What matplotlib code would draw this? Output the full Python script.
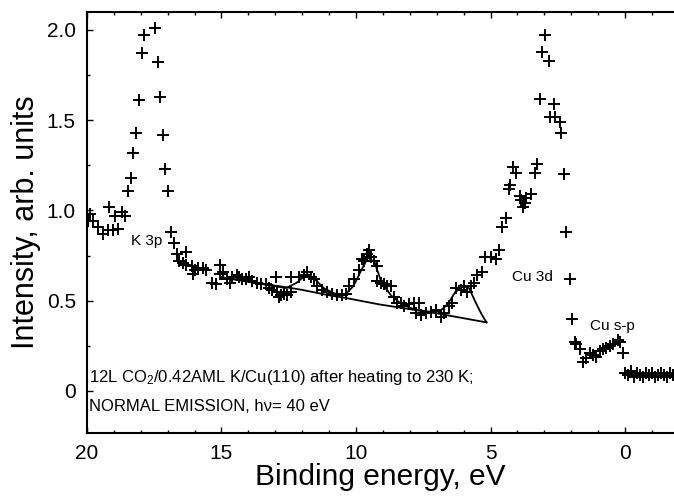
import matplotlib
matplotlib.use("Agg")
import matplotlib.pyplot as plt
from matplotlib.ticker import MultipleLocator

plt.rcParams['font.family'] = ['Liberation Sans', 'DejaVu Sans']
plt.rcParams['mathtext.fontset'] = 'custom'
plt.rcParams['mathtext.rm'] = 'Liberation Sans'
plt.rcParams['mathtext.it'] = 'Liberation Sans:italic'

# measured spectrum (binding energy in eV, intensity in arb. units)
energy = [19.96, 19.89, 19.78, 19.59, 19.41, 19.22, 19.19, 19.04, 18.96, 18.85, 18.70, 18.59,
          18.48, 18.37, 18.30, 18.19, 18.07, 17.96, 17.89, 17.48, 17.37, 17.30, 17.19, 17.11,
          17.00, 16.89, 16.78, 16.67, 16.56, 16.44, 16.30, 16.30, 16.11, 16.07, 16.00, 15.89,
          15.70, 15.56, 15.37, 15.19, 15.07, 15.07, 14.96, 14.81, 14.70, 14.59, 14.44, 14.33,
          14.22, 14.07, 13.96, 13.85, 13.67, 13.52, 13.33, 13.22, 13.11, 12.96, 12.93, 12.85,
          12.78, 12.67, 12.56, 12.41, 12.41, 12.11, 11.93, 11.81, 11.67, 11.56, 11.44, 11.26,
          11.07, 10.89, 10.70, 10.52, 10.37, 10.26, 10.07, 9.89, 9.78, 9.70, 9.59, 9.52,
          9.44, 9.33, 9.22, 9.22, 9.07, 8.96, 8.85, 8.70, 8.59, 8.48, 8.33, 8.22,
          8.04, 7.85, 7.78, 7.67, 7.59, 7.41, 7.22, 7.04, 6.85, 6.74, 6.56, 6.44,
          6.30, 6.11, 6.00, 5.89, 5.74, 5.63, 5.52, 5.33, 5.19, 5.00, 4.81, 4.70,
          4.59, 4.44, 4.33, 4.26, 4.15, 4.04, 3.89, 3.85, 3.78, 3.70, 3.67, 3.48,
          3.33, 3.26, 3.15, 3.07, 2.96, 2.81, 2.78, 2.63, 2.59, 2.41, 2.37, 2.26,
          2.19, 2.04, 1.96, 1.85, 1.81, 1.67, 1.56, 1.44, 1.30, 1.19, 1.07, 0.93,
          0.81, 0.70, 0.56, 0.44, 0.26, 0.19, 0.07,
          0.00, -0.11, -0.22, -0.33, -0.44, -0.56, -0.67, -0.78, -0.89, -1.00, -1.11,
          -1.22, -1.33, -1.44, -1.56, -1.67, -1.78]
intensity = [0.94, 0.98, 0.94, 0.91, 0.87, 0.89, 1.02, 0.89, 0.97, 0.90, 0.99, 0.97,
             1.11, 1.18, 1.32, 1.43, 1.61, 1.87, 1.97, 2.01, 1.82, 1.63, 1.42, 1.23,
             1.11, 0.88, 0.82, 0.76, 0.72, 0.71, 0.77, 0.70, 0.69, 0.65, 0.67, 0.68,
             0.68, 0.67, 0.60, 0.59, 0.70, 0.65, 0.66, 0.62, 0.60, 0.63, 0.64, 0.63,
             0.62, 0.62, 0.63, 0.61, 0.60, 0.59, 0.59, 0.57, 0.56, 0.63, 0.55, 0.52,
             0.53, 0.54, 0.53, 0.55, 0.63, 0.63, 0.64, 0.66, 0.63, 0.62, 0.58, 0.56,
             0.55, 0.54, 0.53, 0.53, 0.54, 0.58, 0.62, 0.67, 0.73, 0.72, 0.76, 0.78,
             0.74, 0.72, 0.69, 0.61, 0.60, 0.59, 0.58, 0.58, 0.52, 0.49, 0.49, 0.47,
             0.48, 0.49, 0.43, 0.49, 0.42, 0.43, 0.44, 0.45, 0.41, 0.43, 0.47, 0.49,
             0.57, 0.56, 0.58, 0.55, 0.58, 0.60, 0.64, 0.66, 0.74, 0.74, 0.73, 0.78,
             0.91, 0.96, 1.12, 1.14, 1.24, 1.21, 1.08, 1.06, 1.02, 1.04, 1.07, 1.09,
             1.21, 1.26, 1.62, 1.88, 1.97, 1.83, 1.52, 1.59, 1.52, 1.49, 1.43, 1.20,
             0.88, 0.62, 0.40, 0.27, 0.26, 0.23, 0.16, 0.18, 0.21, 0.20, 0.19, 0.22,
             0.23, 0.24, 0.25, 0.26, 0.28, 0.27, 0.21,
             0.10, 0.09, 0.11, 0.08, 0.10, 0.09, 0.08, 0.10, 0.09, 0.10, 0.08,
             0.09, 0.10, 0.09, 0.08, 0.10, 0.09]

# fitted background and peak envelope
bg_energy = [15.0, 13.5, 12.4, 12.0, 11.0, 10.37, 9.15, 7.0, 5.15]
bg_intensity = [0.63, 0.595, 0.57, 0.56, 0.53, 0.515, 0.48, 0.43, 0.38]
fit_energy = [15.0, 13.0, 12.6, 12.2, 11.85, 11.5, 11.2, 10.8, 10.4, 10.1, 9.8, 9.55,
              9.3, 9.05, 8.7, 8.3, 7.8, 7.3, 6.9, 6.6, 6.3, 6.0, 5.8, 5.55, 5.35, 5.15]
fit_intensity = [0.63, 0.58, 0.57, 0.60, 0.645, 0.615, 0.57, 0.54, 0.535, 0.58, 0.67, 0.74,
                 0.71, 0.60, 0.53, 0.48, 0.45, 0.44, 0.44, 0.48, 0.55, 0.58, 0.57, 0.49,
                 0.43, 0.38]

peak_labels = ['K 3p', 'Cu 3d', 'Cu s-p']
label_energy = [17.78, 3.44, 0.48]
label_intensity = [0.833, 0.63, 0.36]

fig = plt.figure(figsize=(6.74, 4.98), dpi=100)
ax = fig.add_axes([0.129, 0.1305, 0.871, 0.8455])

ax.plot(energy, intensity, linestyle='none', marker='+', color='black',
        markersize=9, markeredgewidth=1.4)
ax.plot(bg_energy, bg_intensity, color='black', linewidth=1.3)
ax.plot(fit_energy, fit_intensity, color='black', linewidth=1.3)

for lab, xe, yi in zip(peak_labels, label_energy, label_intensity):
    ax.text(xe, yi, lab, fontsize=11, ha='center', va='center')

ax.text(0.004, 0.131, r'12L CO$_2$/0.42AML K/Cu(110) after heating to 230 K;',
        transform=ax.transAxes, fontsize=12, ha='left', va='center')
ax.text(0.004, 0.062, 'NORMAL EMISSION, h\u03bd= 40 eV',
        transform=ax.transAxes, fontsize=12, ha='left', va='center')

ax.set_xlim(20, -1.82)
ax.set_ylim(-0.233, 2.1)
ax.xaxis.set_major_locator(MultipleLocator(5))
ax.xaxis.set_minor_locator(MultipleLocator(1))
ax.yaxis.set_minor_locator(MultipleLocator(0.25))
ax.set_yticks([0, 0.5, 1.0, 1.5, 2.0])
ax.set_yticklabels(['0', '0.5', '1.0', '1.5', '2.0'])
ax.tick_params(which='both', direction='in', top=True, right=False, labelsize=15,
               width=1.0)
ax.tick_params(which='major', length=4)
ax.tick_params(which='minor', length=2.5)
ax.tick_params(axis='x', pad=8)
ax.tick_params(axis='y', pad=8)
ax.spines['right'].set_visible(False)
for s in ['left', 'bottom', 'top']:
    ax.spines[s].set_linewidth(1.5)

ax.set_xlabel('Binding energy, eV', fontsize=21.5, labelpad=0)
ax.set_ylabel('Intensity, arb. units', fontsize=22, labelpad=4)

fig.savefig('out.png', dpi=100)
